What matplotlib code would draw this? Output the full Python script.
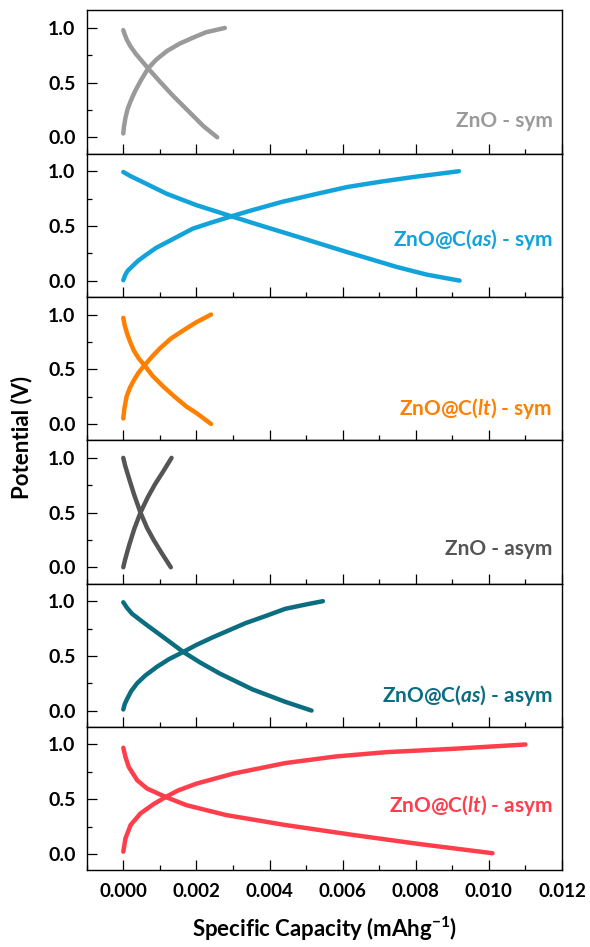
import numpy as np
import matplotlib
matplotlib.use('Agg')
import matplotlib.pyplot as plt
from matplotlib.ticker import MultipleLocator

plt.rcParams['font.family'] = ['Lato', 'DejaVu Sans']
plt.rcParams['font.weight'] = 'bold'
plt.rcParams['mathtext.fontset'] = 'custom'
plt.rcParams['mathtext.rm'] = 'Lato:bold'
plt.rcParams['mathtext.it'] = 'Lato:italic:bold'

# dados: (capacidade, potencial) de carga e descarga
labels = ['ZnO - sym', r'ZnO@C($\mathit{as}$) - sym', r'ZnO@C($\mathit{lt}$) - sym',
          'ZnO - asym', r'ZnO@C($\mathit{as}$) - asym', r'ZnO@C($\mathit{lt}$) - asym']
colors = ['#9a9a9a', '#12a3da', '#ff8000', '#555555', '#0b6d80', '#ff3e4c']
label_y = [0.23, 0.40, 0.22, 0.24, 0.22, 0.45]

chg_x = [
    [0, 0.00002, 0.00006, 0.00012, 0.0002, 0.00032, 0.00048, 0.00068, 0.0009, 0.0012, 0.00154, 0.0019, 0.00226, 0.00278],
    [0, 0.00005, 0.00012, 0.00023, 0.0004, 0.0006, 0.0009, 0.0013, 0.0019, 0.0024, 0.00296, 0.00343, 0.00433,
     0.00525, 0.00613, 0.00705, 0.00793, 0.00918],
    [0, 0.00003, 0.00009, 0.00018, 0.00029, 0.00042, 0.00058, 0.0008, 0.001, 0.0013, 0.00164, 0.002, 0.0024],
    [0, 0.00005, 0.00015, 0.0003, 0.00047, 0.00067, 0.00087, 0.0011, 0.00132],
    [0, 0.00004, 0.00011, 0.00022, 0.00038, 0.0006, 0.00092, 0.00125, 0.00164, 0.002, 0.00245, 0.0029, 0.00335,
     0.0039, 0.00443, 0.005, 0.00546],
    [0, 0.00006, 0.0002, 0.00047, 0.00083, 0.00116, 0.0015, 0.002, 0.003, 0.00443, 0.0058, 0.0072, 0.009, 0.011],
]
chg_y = [
    [0.035, 0.10, 0.18, 0.26, 0.33, 0.42, 0.52, 0.63, 0.71, 0.79, 0.856, 0.91, 0.96, 1.0],
    [0.004, 0.05, 0.09, 0.126, 0.18, 0.23, 0.30, 0.37, 0.475, 0.53, 0.588, 0.635, 0.719,
     0.79, 0.856, 0.905, 0.947, 1.0],
    [0.05, 0.14, 0.25, 0.33, 0.40, 0.47, 0.536, 0.62, 0.69, 0.78, 0.855, 0.93, 1.0],
    [0.0, 0.07, 0.19, 0.35, 0.5, 0.64, 0.76, 0.88, 1.0],
    [0.01, 0.06, 0.11, 0.18, 0.25, 0.32, 0.40, 0.47, 0.536, 0.60, 0.67, 0.735, 0.80, 0.865, 0.93, 0.97, 1.0],
    [0.02, 0.142, 0.264, 0.37, 0.455, 0.52, 0.58, 0.642, 0.733, 0.83, 0.89, 0.93, 0.96, 1.0],
]
dis_x = [
    [0, 0.00004, 0.0001, 0.0002, 0.00035, 0.00068, 0.001, 0.00136, 0.0016, 0.0019, 0.0022, 0.00257],
    [0, 0.0002, 0.00054, 0.00118, 0.002, 0.00296, 0.0038, 0.00478, 0.00613, 0.00748, 0.0083, 0.0092],
    [0, 0.00004, 0.00011, 0.0002, 0.00029, 0.00042, 0.00058, 0.0008, 0.0011, 0.0014, 0.00173, 0.002, 0.0024],
    [0, 0.00005, 0.00015, 0.0003, 0.00047, 0.00065, 0.00083, 0.00105, 0.0013],
    [0, 0.0001, 0.00024, 0.00065, 0.0011, 0.00164, 0.0021, 0.00263, 0.00353, 0.00443, 0.00515],
    [0, 0.00006, 0.00015, 0.00038, 0.00065, 0.00116, 0.00173, 0.00281, 0.00443, 0.00629, 0.0081, 0.0101],
]
dis_y = [
    [0.98, 0.94, 0.89, 0.83, 0.76, 0.63, 0.51, 0.38, 0.30, 0.20, 0.10, 0.0],
    [0.993, 0.955, 0.90, 0.795, 0.69, 0.588, 0.50, 0.40, 0.26, 0.125, 0.055, 0.0],
    [0.97, 0.90, 0.82, 0.74, 0.67, 0.60, 0.536, 0.44, 0.34, 0.25, 0.158, 0.10, 0.0],
    [1.0, 0.93, 0.82, 0.66, 0.5, 0.36, 0.25, 0.13, 0.0],
    [0.99, 0.94, 0.885, 0.78, 0.67, 0.536, 0.44, 0.34, 0.194, 0.08, 0.0],
    [0.97, 0.885, 0.794, 0.673, 0.597, 0.52, 0.445, 0.355, 0.264, 0.173, 0.09, 0.006],
]

fig, axes = plt.subplots(6, 1, figsize=(5.9, 9.47), dpi=100, sharex=True)
fig.subplots_adjust(left=0.147, right=0.9525, top=0.989, bottom=0.081, hspace=0)

for i, ax in enumerate(axes):
    ax.plot(chg_x[i], chg_y[i], '-', color=colors[i], lw=3.2, solid_capstyle='round', solid_joinstyle='round')
    ax.plot(dis_x[i], dis_y[i], '-', color=colors[i], lw=3.2, solid_capstyle='round', solid_joinstyle='round')
    ax.text(0.98, label_y[i], labels[i], transform=ax.transAxes, ha='right', va='center',
            color=colors[i], fontsize=15, fontweight='bold')
    ax.set_xlim(-0.001, 0.012)
    ax.set_ylim(-0.15, 1.16)
    ax.yaxis.set_major_locator(MultipleLocator(0.5))
    ax.yaxis.set_minor_locator(MultipleLocator(0.25))
    ax.xaxis.set_major_locator(MultipleLocator(0.002))
    ax.xaxis.set_minor_locator(MultipleLocator(0.001))
    ax.tick_params(which='both', direction='in', width=0.9, labelsize=14, pad=8)
    ax.tick_params(which='major', length=7)
    ax.tick_params(which='minor', length=3.5)
    for s in ax.spines.values():
        s.set_linewidth(1.0)
    for lab in ax.get_yticklabels():
        lab.set_fontweight('bold')

axes[-1].xaxis.set_major_formatter(plt.FuncFormatter(lambda v, p: '%.3f' % v))
for lab in axes[-1].get_xticklabels():
    lab.set_fontweight('bold')
axes[-1].tick_params(axis='x', pad=9, labelsize=13.5)
axes[-1].set_xlabel('Specific Capacity (mAhg$^{-1}$)', fontsize=16, fontweight='bold', labelpad=11)
fig.text(0.037, 1 - 437 / 947, 'Potential (V)', rotation=90, ha='center', va='center',
         fontsize=16, fontweight='bold')

fig.savefig('out.png', dpi=100)
